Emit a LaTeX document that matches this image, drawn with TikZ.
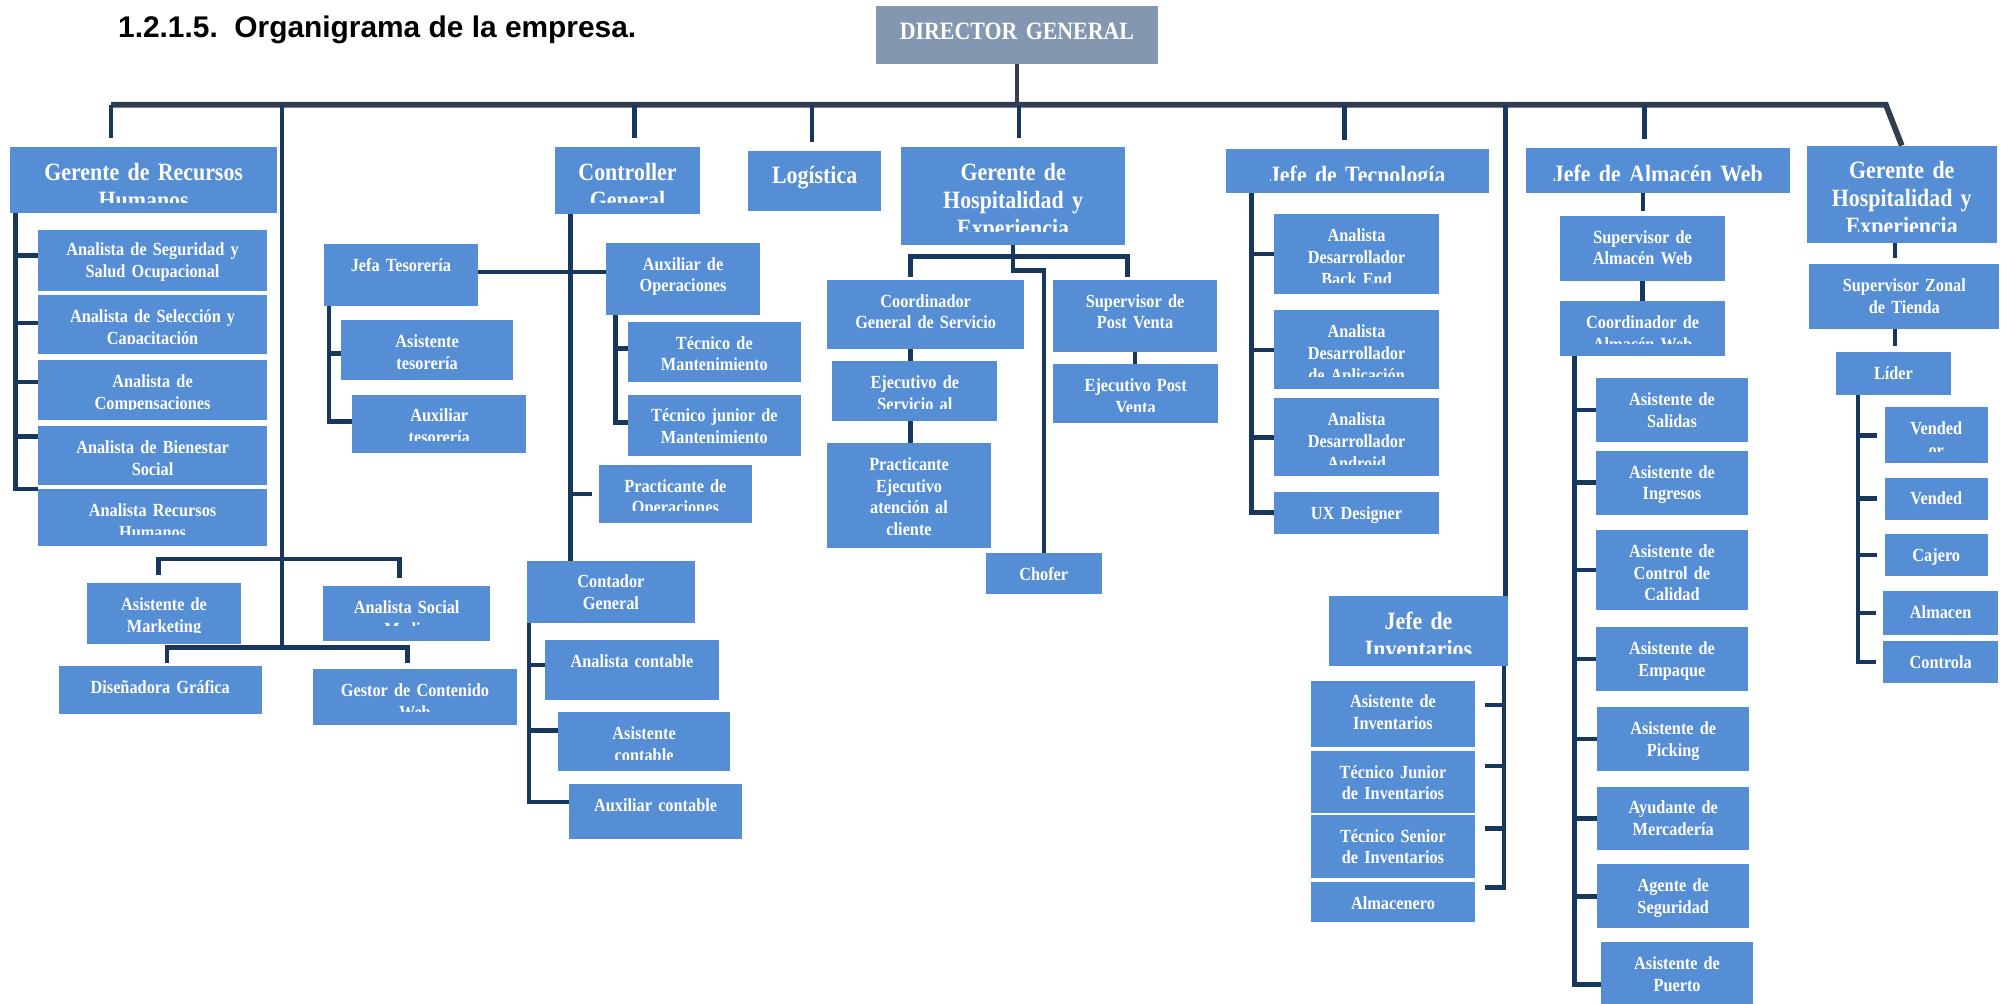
\documentclass[tikz,border=0pt]{standalone}
\usepackage{fontspec}
\usepackage{tikz}
\usetikzlibrary{backgrounds}
\newfontfamily\boxfont{Liberation Serif}[FakeStretch=0.88]
\newfontfamily\titlefont{Liberation Sans}
\definecolor{boxblue}{RGB}{85,142,213}
\definecolor{chiefgray}{RGB}{132,151,176}
\definecolor{linknavy}{RGB}{23,55,94}
\definecolor{busgray}{RGB}{50,62,79}
\tikzset{
  unit/.style  = {fill=boxblue, text=white, align=center, inner sep=0pt, outer sep=0pt, anchor=north west,
                  text height=21.5pt, font=\boxfont\bfseries\fontsize{14.5}{17}\selectfont},
  head/.style  = {unit, text height=26pt, font=\boxfont\bfseries\fontsize{19.5}{22}\selectfont},
  chief/.style = {head, fill=chiefgray},
  link/.style  = {draw=linknavy, line width=3.5pt},
  bus/.style   = {draw=busgray, line width=4.5pt},
}

\begin{document}
\begin{tikzpicture}[x=1pt, y=-1pt]
  \useasboundingbox (0,0) rectangle (1568,786);
  \node[anchor=base west, font=\titlefont\bfseries\fontsize{23.4}{28}\selectfont] (title) at (89,29)
    {1.2.1.5.\ \ Organigrama de la empresa.};

  \node[chief, text width=221pt, text depth=19pt] (dir) at (686,5) {DIRECTOR GENERAL};

  \node[head, text width=209pt, text depth=26pt] (rrhh) at (8,115) {Gerente de Recursos\\Humanos};
  \node[head, text width=113pt, text depth=27pt] (ctrl) at (435,115) {Controller\\General};
  \node[head, text width=104pt, text depth=21pt] (logi) at (586,118) {Logística};
  \node[head, text width=175pt, text depth=51pt] (hosp) at (706,115) {Gerente de\\Hospitalidad y\\Experiencia};
  \node[head, text width=206pt, text height=26.5pt, text depth=7.5pt] (tec) at (960,117) {Jefe de Tecnología};
  \node[head, text width=207pt, text height=27pt, text depth=8pt] (jaw) at (1195,116) {Jefe de Almacén Web};
  \node[head, text width=149pt, text depth=50pt] (hosp2) at (1415,114) {Gerente de\\Hospitalidad y\\Experiencia};
  \node[head, text width=140pt, text depth=29pt] (inv) at (1041,467) {Jefe de\\Inventarios};

  \node[unit, text width=179pt, text height=20pt, text depth=28pt] (s1) at (30,180) {Analista de Seguridad y\\Salud Ocupacional};
  \node[unit, text width=179pt, text depth=24.5pt] (s2) at (30,231) {Analista de Selección y\\Capacitación};
  \node[unit, text width=179pt, text depth=25.5pt] (s3) at (30,282) {Analista de\\Compensaciones};
  \node[unit, text width=179pt, text depth=24.5pt] (s4) at (30,334) {Analista de Bienestar\\Social};
  \node[unit, text width=179pt, text depth=23.5pt] (s5) at (30,383) {Analista Recursos\\Humanos};

  \node[unit, text width=121pt, text depth=25.5pt] (mkt) at (68,457) {Asistente de\\Marketing};
  \node[unit, text width=131pt, text depth=21.5pt] (smed) at (253,459) {Analista Social\\Media};
  \node[unit, text width=159pt, text depth=15.5pt] (dis) at (46,522) {Diseñadora Gráfica};
  \node[unit, text width=160pt, text depth=22.5pt] (gcw) at (245,524) {Gestor de Contenido\\Web};

  \node[unit, text width=120pt, text depth=27.5pt] (jefa) at (254,191) {Jefa Tesorería};
  \node[unit, text width=135pt, text depth=25.5pt] (asis) at (267,251) {Asistente\\tesorería};
  \node[unit, text width=136pt, text depth=24.5pt] (auxt) at (276,309) {Auxiliar\\tesorería};
  \node[unit, text width=120pt, text depth=35.5pt] (auxop) at (475,190) {Auxiliar de\\Operaciones};
  \node[unit, text width=135pt, text depth=25.5pt] (tm) at (492,252) {Técnico de\\Mantenimiento};
  \node[unit, text width=135pt, text depth=26.5pt] (tjm) at (492,309) {Técnico junior de\\Mantenimiento};
  \node[unit, text width=120pt, text depth=24.5pt] (pop) at (469,364) {Practicante de\\Operaciones};
  \node[unit, text width=131pt, text depth=27.5pt] (cont) at (413,439) {Contador\\General};
  \node[unit, text width=136pt, text depth=25.5pt] (ac) at (427,501) {Analista contable};
  \node[unit, text width=135pt, text depth=24.5pt] (asc) at (437,558) {Asistente\\contable};
  \node[unit, text width=135pt, text depth=21.5pt] (auc) at (446,614) {Auxiliar contable};

  \node[unit, text width=154pt, text depth=32.5pt] (coord) at (648,219) {Coordinador\\General de Servicio};
  \node[unit, text width=129pt, text depth=25.5pt] (ejs) at (652,283) {Ejecutivo de\\Servicio al};
  \node[unit, text width=128pt, text depth=60.5pt] (pea) at (648,347) {Practicante\\Ejecutivo\\atención al\\cliente};
  \node[unit, text width=128pt, text depth=35.5pt] (sup) at (825,219) {Supervisor de\\Post Venta};
  \node[unit, text width=129pt, text depth=24.5pt] (epv) at (825,285) {Ejecutivo Post\\Venta};
  \node[unit, text width=91pt, text depth=10.5pt] (chof) at (772,433) {Chofer};

  \node[unit, text width=129pt, text depth=40.5pt] (be) at (998,168) {Analista\\Desarrollador\\Back End};
  \node[unit, text width=129pt, text depth=40.5pt] (apl) at (998,243) {Analista\\Desarrollador\\de Aplicación};
  \node[unit, text width=129pt, text depth=39.5pt] (andr) at (998,312) {Analista\\Desarrollador\\Android};
  \node[unit, text width=129pt, text depth=11.5pt] (ux) at (998,385) {UX Designer};

  \node[unit, text width=128pt, text depth=30.5pt] (ain) at (1027,533) {Asistente de\\Inventarios};
  \node[unit, text width=128pt, text depth=27.5pt] (tji) at (1027,588) {Técnico Junior\\de Inventarios};
  \node[unit, text width=128pt, text depth=28.5pt] (tsi) at (1027,638) {Técnico Senior\\de Inventarios};
  \node[unit, text width=128pt, text depth=9.5pt] (alm) at (1027,691) {Almacenero};

  \node[unit, text width=129pt, text depth=29.5pt] (saw) at (1222,169) {Supervisor de\\Almacén Web};
  \node[unit, text width=129pt, text depth=21.5pt] (caw) at (1222,236) {Coordinador de\\Almacén Web};
  \node[unit, text width=119pt, text depth=28.5pt] (sal) at (1250,296) {Asistente de\\Salidas};
  \node[unit, text width=119pt, text depth=28.5pt] (ing) at (1250,353) {Asistente de\\Ingresos};
  \node[unit, text width=119pt, text depth=41.5pt] (ccal) at (1250,415) {Asistente de\\Control de\\Calidad};
  \node[unit, text width=119pt, text depth=28.5pt] (emp) at (1250,491) {Asistente de\\Empaque};
  \node[unit, text width=119pt, text depth=28.5pt] (pick) at (1251,554) {Asistente de\\Picking};
  \node[unit, text width=119pt, text depth=28.5pt] (merc) at (1251,616) {Ayudante de\\Mercadería};
  \node[unit, text width=119pt, text depth=28.5pt] (seg) at (1251,677) {Agente de\\Seguridad};
  \node[unit, text width=119pt, text depth=26.5pt] (pto) at (1254,738) {Asistente de\\Puerto};

  \node[unit, text width=149pt, text depth=29.5pt] (szt) at (1417,207) {Supervisor Zonal\\de Tienda};
  \node[unit, text width=90pt, text depth=11.5pt] (lid) at (1438,276) {Líder};
  \node[unit, text width=81pt, text depth=22.5pt] (v1) at (1476,319) {Vended\\or};
  \node[unit, text width=81pt, text depth=11.5pt] (v2) at (1476,374) {Vended};
  \node[unit, text width=81pt, text depth=11.5pt] (caj) at (1476,418) {Cajero};
  \node[unit, text width=90pt, text depth=12.5pt] (alm2) at (1475,463) {Almacen};
  \node[unit, text width=90pt, text depth=11.5pt] (ctl) at (1475,502) {Controla};

  \foreach \n/\h in {rrhh/8, ctrl/9, hosp/10, hosp2/8.5, tec/9, jaw/9, inv/10, s2/7.5, s3/8, s5/9,
                     mkt/8.5, smed/12, gcw/10.5, auxt/9.5, tm/8.5, tjm/9, pop/10, asc/9, ejs/10,
                     epv/8.5, be/8, apl/10, andr/9, caw/9.5, ccal/8, v1/9}
    \fill[boxblue] (\n.south west) rectangle ([yshift=\h pt]\n.south east);

  \begin{scope}[on background layer]
    \coordinate (busL) at (87,82);
    \coordinate (busR) at (1477,82);
    \coordinate (mkA) at (221,438);
    \coordinate (mkB) at (221,507);
    \draw[bus, line width=3.8pt] (dir.south) -- (dir.south |- busL);
    \draw[bus] (busL) -- (busR) -- (hosp2.north);
    \draw[link, shorten >=7pt] (busL) -- (busL |- rrhh.north);
    \foreach \n/\dx in {ctrl/5.5, logi/-2, hosp/4.5, tec/-10, jaw/-10.5}
      \draw[link, shorten >=7pt] ([xshift=\dx pt]\n.north |- busL) -- ([xshift=\dx pt]\n.north);
    \draw[link] ([xshift=-2pt]inv.north east |- busL) -- ([xshift=-2pt]inv.north east);

    \draw[link] ([xshift=4pt]rrhh.south west) |- (s5.north west);
    \foreach \n/\dy in {s1/4, s2/1, s3/6.5, s4/15}
      \draw[link] ([xshift=-18pt, yshift=\dy pt]\n.west) -- ([yshift=\dy pt]\n.west);

    \draw[link] (mkA |- busL) -- (mkB);
    \draw[link, shorten <=7pt, shorten >=6pt] ([xshift=-4.5pt]mkt.north) |- (mkA) -| ([xshift=-5.5pt]smed.north);
    \draw[link, shorten <=3pt, shorten >=5pt] ([xshift=5.5pt]dis.north) |- (mkB) -| ([xshift=-6pt]gcw.north);

    \draw[link] ([xshift=12pt]ctrl.south west) -- ([xshift=12pt]ctrl.south west |- cont.north);
    \draw[link] ([yshift=2.5pt]jefa.east) -- ([yshift=2.5pt]jefa.east -| auxop.west);
    \draw[link] ([xshift=12pt]ctrl.south west |- pop.west) -- ([xshift=-5pt]pop.west);
    \draw[link] ([xshift=3.5pt]jefa.south west) |- ([yshift=2pt]auxt.west);
    \draw[link] ([xshift=3.5pt, yshift=-2.5pt]jefa.south west |- asis.west) -- ([yshift=-2.5pt]asis.west);
    \draw[link] ([xshift=7pt]auxop.south west) |- ([yshift=2pt]tjm.west);
    \draw[link] ([xshift=7pt, yshift=2.5pt]auxop.south west |- tm.west) -- ([yshift=2.5pt]tm.west);
    \draw[link] ([xshift=1.5pt]cont.south west) |- ([yshift=7.5pt]auc.west);
    \foreach \n/\dy in {ac/3.5, asc/9}
      \draw[link] ([xshift=1.5pt, yshift=\dy pt]cont.south west |- \n.west) -- ([yshift=\dy pt]\n.west);

    \draw[link, shorten <=2pt, shorten >=2pt] ([xshift=-12pt]coord.north) |- ([yshift=-9pt]hosp.south) -| ([xshift=-6pt]sup.north);
    \draw[link] (hosp.south) -- ++(0,-20pt) -| (chof.north);
    \draw[link] ([xshift=-12pt]coord.south) -- ([xshift=-12pt]coord.south |- ejs.north);
    \draw[link] ([xshift=-3.5pt]ejs.south) -- ([xshift=-3.5pt]ejs.south |- pea.north);
    \draw[link] (sup.south) -- (sup.south |- epv.north);

    \draw[link] ([xshift=20pt]tec.south west) |- (ux.west);
    \foreach \n in {be, apl, andr}
      \draw[link] ([xshift=20pt]tec.south west |- \n.west) -- (\n.west);

    \draw[link, shorten >=4pt] ([xshift=-11.5pt]jaw.south) -- ([xshift=-11.5pt]jaw.south |- saw.north);
    \draw[link] (saw.south) -- (caw.north);
    \draw[link] ([xshift=11pt]caw.south west) |- ([yshift=-9pt]pto.west);
    \foreach \n in {sal, ing, ccal, emp, pick, merc, seg}
      \draw[link] ([xshift=11pt]caw.south west |- \n.west) -- (\n.west);

    \draw[link] ([xshift=-3pt]inv.south east) -- ([xshift=23pt, yshift=11.5pt]alm.east) -- ([xshift=8pt, yshift=11.5pt]alm.east);
    \foreach \n/\dy in {ain/7, tji/12.5, tsi/14}
      \draw[link] ([xshift=8pt, yshift=\dy pt]\n.east) -- ([xshift=23pt, yshift=\dy pt]\n.east);

    \draw[link, shorten >=5pt] ([xshift=-5.5pt]hosp2.south) -- ([xshift=-5.5pt]hosp2.south |- szt.north);
    \draw[link, shorten >=5pt] ([xshift=-7.5pt]szt.south) -- ([xshift=-7.5pt]szt.south |- lid.north);
    \draw[link, shorten >=6pt] ([xshift=17pt]lid.south west) |- (ctl.west);
    \foreach \n in {v1, v2, caj, alm2}
      \draw[link, shorten >=6pt] ([xshift=17pt]lid.south west |- \n.west) -- (\n.west);
  \end{scope}
\end{tikzpicture}
\end{document}
